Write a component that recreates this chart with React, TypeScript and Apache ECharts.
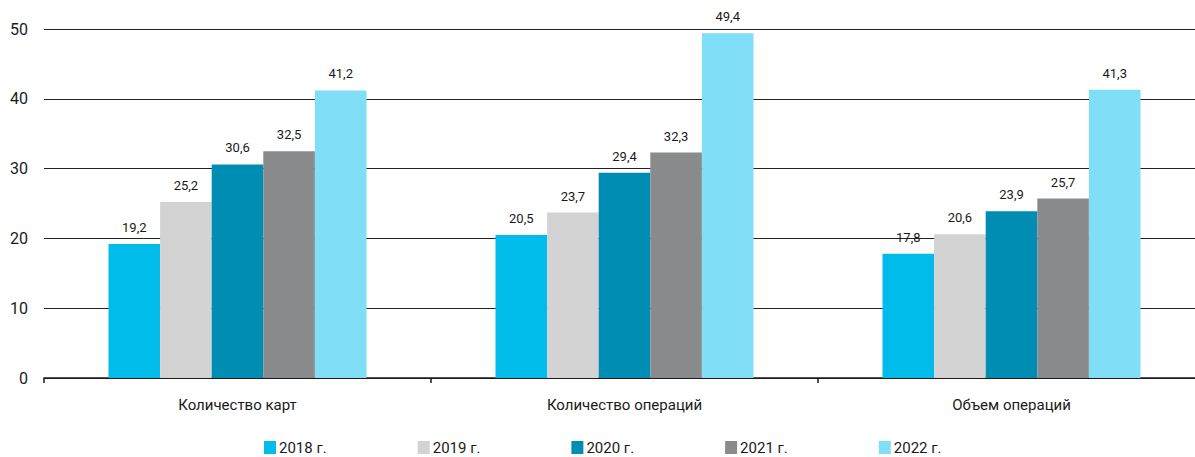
import React, { useEffect, useRef } from "react";
import * as echarts from "echarts";

const categories = ["Количество карт", "Количество операций", "Объем операций"];
const years = ["2018 г.", "2019 г.", "2020 г.", "2021 г.", "2022 г."];
const v2018 = [19.2, 20.5, 17.8];
const v2019 = [25.2, 23.7, 20.6];
const v2020 = [30.6, 29.4, 23.9];
const v2021 = [32.5, 32.3, 25.7];
const v2022 = [41.2, 49.4, 41.3];
const yTicks = [0, 10, 20, 30, 40, 50];
const colors = ["#00BCEB", "#D3D3D3", "#008DB4", "#898A8C", "#80DEF7"];

export default function App() {
  const ref = useRef<HTMLDivElement>(null);
  useEffect(() => {
    document.body.style.margin = "0";
    const chart = echarts.init(ref.current!, undefined, { renderer: "svg" });
    const seriesData = [v2018, v2019, v2020, v2021, v2022];
    const font = "Roboto, 'Noto Sans', sans-serif";
    chart.setOption({
      animation: false,
      textStyle: { fontFamily: font },
      color: colors,
      grid: { left: 44, top: 29, height: 349, width: 1161, outerBoundsMode: "none", containLabel: false },
      legend: {
        data: years,
        left: 259,
        top: 435,
        itemWidth: 12,
        itemHeight: 13,
        itemGap: 91,
        icon: "rect",
        textStyle: { fontSize: 15, color: "#1a1a1a", fontFamily: font, padding: [0, 0, 0, -2] },
      },
      xAxis: {
        type: "category",
        data: categories,
        axisLine: { lineStyle: { color: "#1a1a1a", width: 1.5 } },
        axisTick: { show: true, length: 5, lineStyle: { color: "#1a1a1a", width: 1.5 } },
        axisLabel: { fontSize: 15, color: "#1a1a1a", margin: 19, fontFamily: font },
      },
      yAxis: {
        type: "value",
        min: yTicks[0],
        max: yTicks[yTicks.length - 1],
        interval: 10,
        axisLine: { show: false },
        axisTick: { show: false },
        axisLabel: { fontSize: 16, color: "#1a1a1a", margin: 16, fontFamily: font },
        splitLine: { lineStyle: { color: "#222", width: 1 } },
      },
      series: seriesData.map((d, i) => ({
        name: years[i],
        type: "bar",
        data: d,
        barWidth: 51.6,
        barGap: "0%",
        itemStyle: { color: colors[i] },
        label: {
          show: true,
          position: "top",
          distance: 10,
          fontSize: 13,
          color: "#1a1a1a",
          fontFamily: font,
          formatter: (p: any) => String(p.value).replace(".", ","),
        },
      })),
    });
    return () => chart.dispose();
  }, []);
  return <div ref={ref} style={{ width: 1195, height: 457 }} />;
}
